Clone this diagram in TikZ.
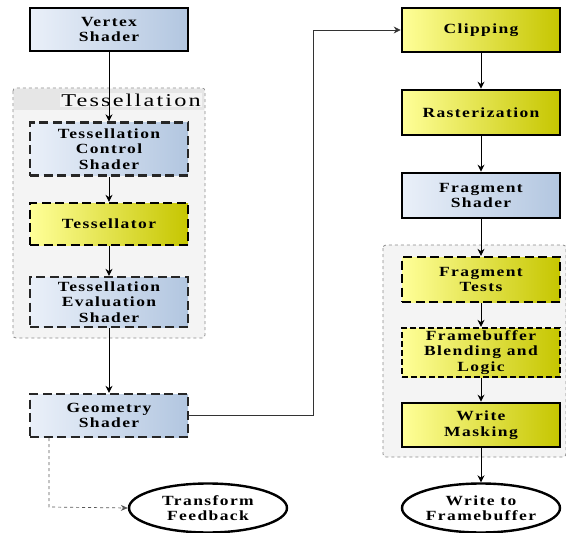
\documentclass[tikz,border=0pt]{standalone}
\usepackage{fontspec}
\setmainfont{Liberation Serif}
\newfontfamily\boxfont[FakeStretch=1.25,LetterSpace=10]{Liberation Serif}
\newfontfamily\grpfont[FakeStretch=1.35,LetterSpace=12]{Liberation Serif}
\usetikzlibrary{arrows.meta,shapes.geometric,positioning}

\definecolor{blueL}{HTML}{EAF0F9}
\definecolor{blueR}{HTML}{B2C6E0}
\definecolor{yelL}{HTML}{FFFF99}
\definecolor{yelR}{HTML}{C6C600}
\definecolor{grpfill}{HTML}{F4F4F4}
\definecolor{grphead}{HTML}{E6E6E6}
\definecolor{grpline}{HTML}{8A8A8A}

\tikzset{
  stagebox/.style={rectangle, minimum width=158pt, align=center,
    font=\boxfont\bfseries\fontsize{14}{15.5}\selectfont, inner sep=0pt},
  solidbox/.style={stagebox, draw=black, line width=2.6pt},
  dashbox/.style={stagebox, draw=black!85, line width=2.3pt, dash pattern=on 9pt off 4.5pt},
  bluefill/.style={left color=blueL, right color=blueR},
  yelfill/.style={left color=yelL, right color=yelR},
  endpoint/.style={ellipse, draw=black, line width=2.4pt, fill=white,
    minimum width=158pt, minimum height=49pt, inner sep=0pt, align=center,
    font=\boxfont\bfseries\fontsize{14}{15.5}\selectfont},
  group/.style={draw=grpline, dashed, line width=0.8pt, fill=grpfill, rounded corners=3pt},
  flow/.style={-{Stealth[length=7pt,width=7pt]}, line width=0.9pt, black},
}

\begin{document}
\begin{tikzpicture}[x=1pt,y=-1pt]
\useasboundingbox (0,0) rectangle (566,533);

% group panels
\draw[group] (13,88) rectangle (205,338);
\fill[grphead] (14,89) rectangle (204,110);
\node[font=\grpfont\fontsize{18}{18}\selectfont, fill=grpfill,
  inner sep=1pt, anchor=east] (tesslabel) at (202,100) {Tessellation};
\draw[group] (383,245) rectangle (566,457);

% left column
\node[solidbox, bluefill, minimum height=43pt] (vs) at (109,29.5) {Vertex\\Shader};
\node[dashbox, bluefill, minimum height=53pt] (tcs) at (109,149) {Tessellation\\Control\\Shader};
\node[dashbox, yelfill, draw=black, minimum height=42pt] (tess) at (109,224) {Tessellator};
\node[dashbox, bluefill, minimum height=50pt] (tes) at (109,302) {Tessellation\\Evaluation\\Shader};
\node[dashbox, bluefill, minimum height=43pt] (gs) at (109,415.5) {Geometry\\Shader};
\node[endpoint] (tf) at (208,508) {Transform\\Feedback};

% right column
\node[solidbox, yelfill, minimum height=44pt] (clip) at (481,30) {Clipping};
\node[solidbox, yelfill, minimum height=45pt] (rast) at (481,112.5) {Rasterization};
\node[solidbox, bluefill, minimum height=45pt] (fs) at (481,195.5) {Fragment\\Shader};
\node[dashbox, yelfill, draw=black, minimum height=45pt] (ft) at (481,279.5) {Fragment\\Tests};
\node[dashbox, yelfill, draw=black, minimum height=49pt, dash pattern=on 6pt off 3pt] (fb) at (481,352.5) {Framebuffer\\Blending and\\Logic};
\node[solidbox, yelfill, minimum height=44pt] (wm) at (481,425) {Write\\Masking};
\node[endpoint] (wf) at (481,508) {Write to\\Framebuffer};

% connectors
\draw[flow] (vs) -- (tcs);
\draw[flow] (tcs) -- (tess);
\draw[flow] (tess) -- (tes);
\draw[flow] (tes) -- (gs);
\coordinate (bendlow) at (313,415.5);
\coordinate (bendhigh) at (313,30);
\draw[flow, line width=0.7pt, black!80] (gs.east) -- (bendlow) -- (bendhigh) -- (clip.west);
\coordinate (fbcorner) at (49,507);
\draw[-{Stealth[length=7pt,width=6pt]}, line width=0.7pt, black!65, dashed]
  (gs.south -| fbcorner) -- (fbcorner) -- (tf.west);
\draw[flow] (clip) -- (rast);
\draw[flow] (rast) -- (fs);
\draw[flow] (fs) -- (ft);
\draw[flow] (ft) -- (fb);
\draw[flow] (fb) -- (wm);
\draw[flow] (wm) -- (wf);
\end{tikzpicture}
\end{document}
